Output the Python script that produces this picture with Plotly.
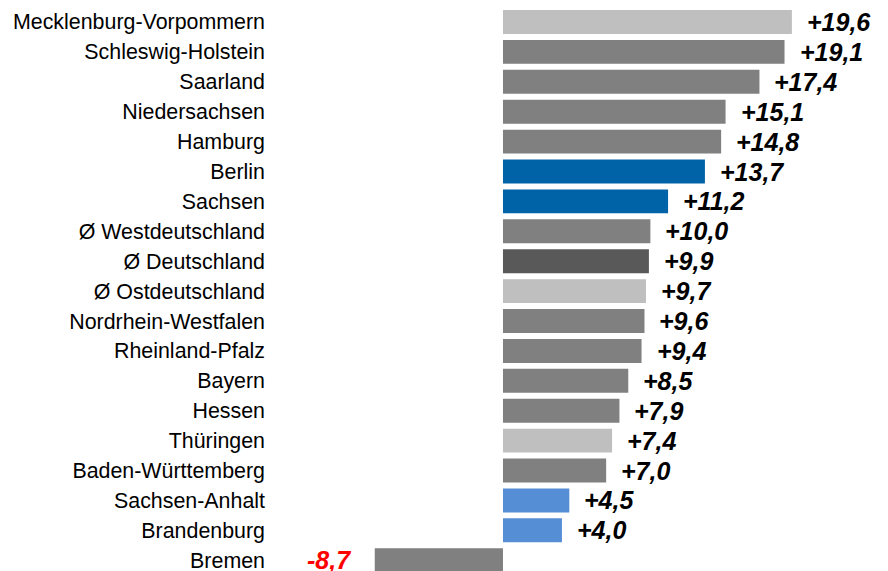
import plotly.graph_objects as go

categories = ["Mecklenburg-Vorpommern", "Schleswig-Holstein", "Saarland", "Niedersachsen",
              "Hamburg", "Berlin", "Sachsen", "Ø Westdeutschland", "Ø Deutschland",
              "Ø Ostdeutschland", "Nordrhein-Westfalen", "Rheinland-Pfalz", "Bayern",
              "Hessen", "Thüringen", "Baden-Württemberg", "Sachsen-Anhalt", "Brandenburg",
              "Bremen"]
values = [19.6, 19.1, 17.4, 15.1, 14.8, 13.7, 11.2, 10.0, 9.9, 9.7, 9.6, 9.4, 8.5, 7.9,
          7.4, 7.0, 4.5, 4.0, -8.7]
colors = ["#BFBFBF", "#808080", "#808080", "#808080", "#808080", "#0063A8", "#0063A8",
          "#808080", "#595959", "#BFBFBF", "#808080", "#808080", "#808080", "#808080",
          "#BFBFBF", "#808080", "#558ED5", "#558ED5", "#808080"]

def fmt(v):
    s = f"{abs(v):.1f}".replace(".", ",")
    return ("+" if v >= 0 else "-") + s

fig = go.Figure(go.Bar(
    x=values, y=categories, orientation="h",
    marker=dict(color=colors, line=dict(width=0)),
    width=0.8, hoverinfo="skip",
))

for c, v in zip(categories, values):
    pos = v >= 0
    fig.add_annotation(
        x=v, y=c, text=f"<b><i>{fmt(v)}</i></b>", showarrow=False,
        xanchor="left" if pos else "right", xshift=13 if pos else -22,
        font=dict(family="Liberation Sans, Arial, sans-serif", size=25,
                  color="#000000" if pos else "#FF0000"),
    )

fig.update_layout(
    width=880, height=563,
    margin=dict(l=264, r=0, t=0, b=0, autoexpand=False),
    plot_bgcolor="white", paper_bgcolor="white",
    showlegend=False,
    xaxis=dict(range=[-15.67, 26.12], visible=False, showgrid=False, zeroline=False),
    yaxis=dict(range=[18.36, -0.468], showgrid=False, zeroline=False, showline=False,
               ticks="", ticklabelstandoff=6,
               tickfont=dict(family="Liberation Sans, Arial, sans-serif", size=21.4, color="#000000")),
)

fig.write_html("out.html")
